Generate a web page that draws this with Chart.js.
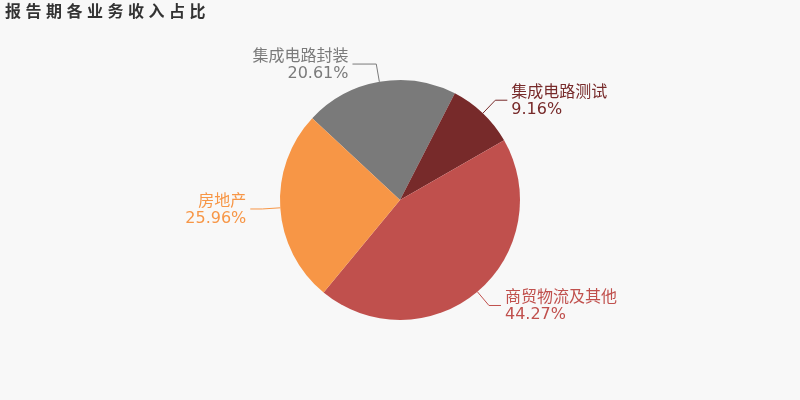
<!DOCTYPE html>
<html>
<head>
<meta charset="utf-8">
<script src="https://cdn.jsdelivr.net/npm/chart.js@4"></script>
<style>
    html, body { margin: 0; padding: 0; background: #f8f8f8; }
    #wrap { width: 800px; height: 400px; position: relative; }
</style>
</head>
<body>
<div id="wrap"><canvas id="pie"></canvas></div>
<script>
// ─── DATA ────────────────────────────────────────────────────────────────
const title      = '报告期各业务收入占比';
const categories = ['集成电路封装', '集成电路测试', '商贸物流及其他', '房地产'];
const shares     = [20.61, 9.16, 44.27, 25.96];
const colors     = ['#7a7a7a', '#772a2a', '#c0504d', '#f79646'];

const FONT = '"DejaVu Sans", "Noto Sans CJK SC", sans-serif';

// title + leader-line labels
const labelPlugin = {
    id: 'pieLabels',
    afterDraw(chart) {
        const ctx = chart.ctx;
        ctx.save();
        ctx.font = 'bold 16px ' + FONT;
        ctx.fillStyle = '#333';
        ctx.textBaseline = 'middle';
        ctx.textAlign = 'left';
        ctx.letterSpacing = '4.5px';
        ctx.fillText(title, 5, 13);
        ctx.letterSpacing = '0px';

        const arcs = chart.getDatasetMeta(0).data;
        arcs.forEach((arc, i) => {
            const { x, y, startAngle, endAngle, outerRadius } = arc.getProps(['x','y','startAngle','endAngle','outerRadius'], true);
            const mid = (startAngle + endAngle) / 2;
            const cos = Math.cos(mid), sin = Math.sin(mid);
            const x0 = x + cos * outerRadius, y0 = y + sin * outerRadius;
            const x1 = x + cos * (outerRadius + 18), y1 = y + sin * (outerRadius + 18);
            const right = cos >= 0;
            // labels near the top/bottom get pushed further out, like the original
            const len2 = 12 + 18 * Math.max(0, 0.5 - Math.abs(cos)) * 2;
            const x2 = x1 + (right ? len2 : -len2);
            ctx.strokeStyle = colors[i];
            ctx.lineWidth = 1;
            ctx.beginPath();
            ctx.moveTo(x0, y0); ctx.lineTo(x1, y1); ctx.lineTo(x2, y1);
            ctx.stroke();

            const tx = x2 + (right ? 4 : -4);
            ctx.fillStyle = colors[i];
            ctx.textAlign = right ? 'left' : 'right';
            ctx.textBaseline = 'alphabetic';
            ctx.font = '16px ' + FONT;
            ctx.fillText(categories[i], tx, y1 - 3);
            ctx.fillText(shares[i].toFixed(2) + '%', tx, y1 + 14);
        });
        ctx.restore();
    }
};

new Chart(document.getElementById('pie'), {
    type: 'pie',
    data: {
        labels: categories,
        datasets: [{ data: shares, backgroundColor: colors, borderWidth: 0, hoverOffset: 0 }]
    },
    options: {
        responsive: true,
        maintainAspectRatio: false,
        animation: false,
        rotation: -47,
        layout: { padding: { top: 80, bottom: 80, left: 280, right: 280 } },
        plugins: { legend: { display: false }, tooltip: { enabled: false } }
    },
    plugins: [labelPlugin]
});
</script>
</body>
</html>
